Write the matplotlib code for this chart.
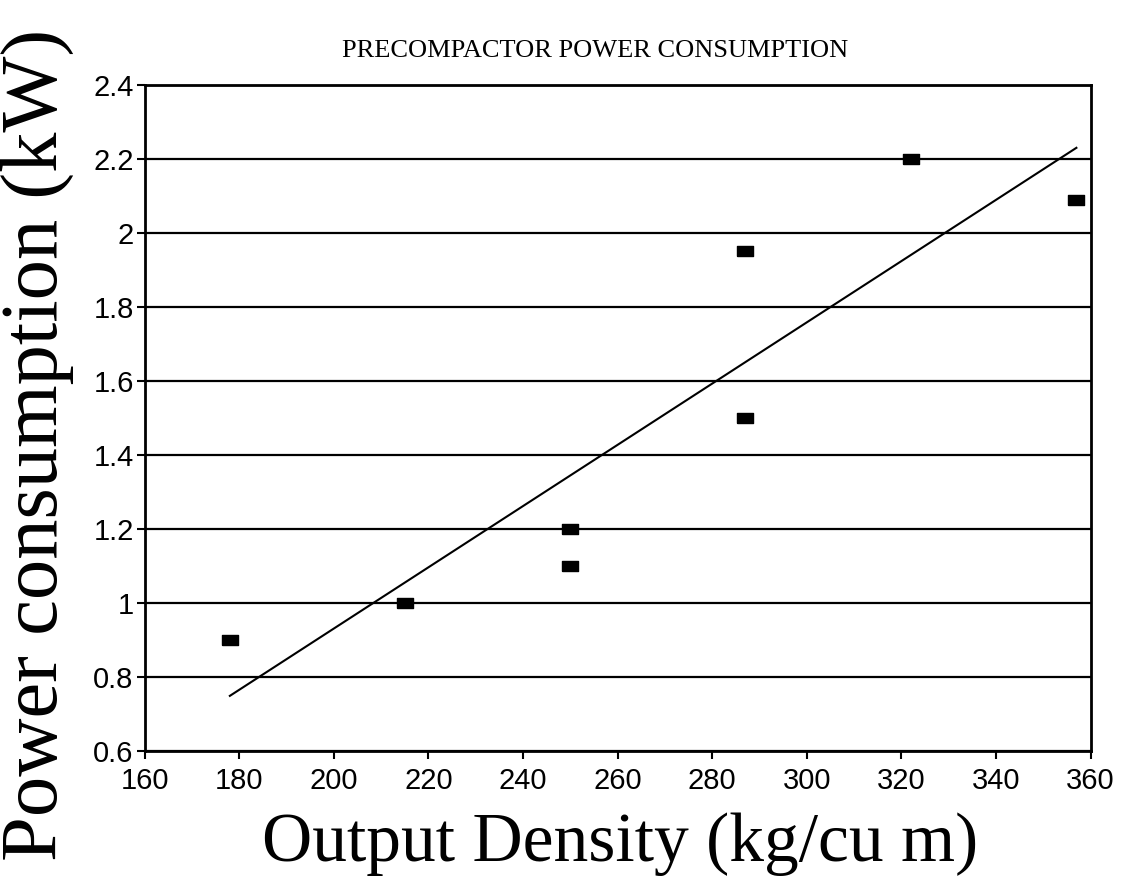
import matplotlib.pyplot as plt

# measured output density (kg/cu m) and precompactor power (kW)
densidad = [178, 215, 250, 250, 287, 287, 322, 357]
potencia = [0.90, 1.00, 1.20, 1.10, 1.95, 1.50, 2.20, 2.09]

# fitted trend line end points
tend_x = [178, 357]
tend_y = [0.75, 2.23]

ticks_x = [160, 180, 200, 220, 240, 260, 280, 300, 320, 340, 360]
ticks_y = [0.6, 0.8, 1.0, 1.2, 1.4, 1.6, 1.8, 2.0, 2.2, 2.4]
etiq_y = ['0.6', '0.8', '1', '1.2', '1.4', '1.6', '1.8', '2', '2.2', '2.4']

fig = plt.figure(figsize=(11.22, 8.84), dpi=100)
ax = fig.add_axes([0.129, 0.150, 0.843, 0.754])

# horizontal grid
for v in ticks_y:
    ax.axhline(v, color='black', linewidth=1.6, zorder=1)

# rectangular markers
caja = [(-1, -0.6), (1, -0.6), (1, 0.6), (-1, 0.6), (-1, -0.6)]
ax.plot(densidad, potencia, linestyle='none', marker=caja, markersize=12,
        color='black', zorder=3)
ax.plot(tend_x, tend_y, color='black', linewidth=1.5, zorder=2)

ax.set_xlim(160, 360)
ax.set_ylim(0.6, 2.4)
ax.set_xticks(ticks_x)
ax.set_yticks(ticks_y)
ax.set_yticklabels(etiq_y)
ax.tick_params(direction='out', length=6, width=1.5, labelsize=21,
               colors='black')
ax.tick_params(axis='x', pad=5)
ax.tick_params(axis='y', pad=2)
for lbl in ax.get_xticklabels() + ax.get_yticklabels():
    lbl.set_fontfamily('Liberation Sans')
for s in ax.spines.values():
    s.set_linewidth(2)

fig.text(0.53, 0.942, 'PRECOMPACTOR POWER CONSUMPTION', ha='center',
         va='center', fontsize=19, family='Liberation Serif')
fig.text(0.553, 0.045, 'Output Density (kg/cu m)', ha='center',
         va='center', fontsize=50, family='Liberation Serif')
fig.text(0.033, 0.497, 'Power consumption (kW)', ha='center', va='center',
         rotation=90, fontsize=58, family='Liberation Serif')

fig.savefig('out.png', dpi=100)
